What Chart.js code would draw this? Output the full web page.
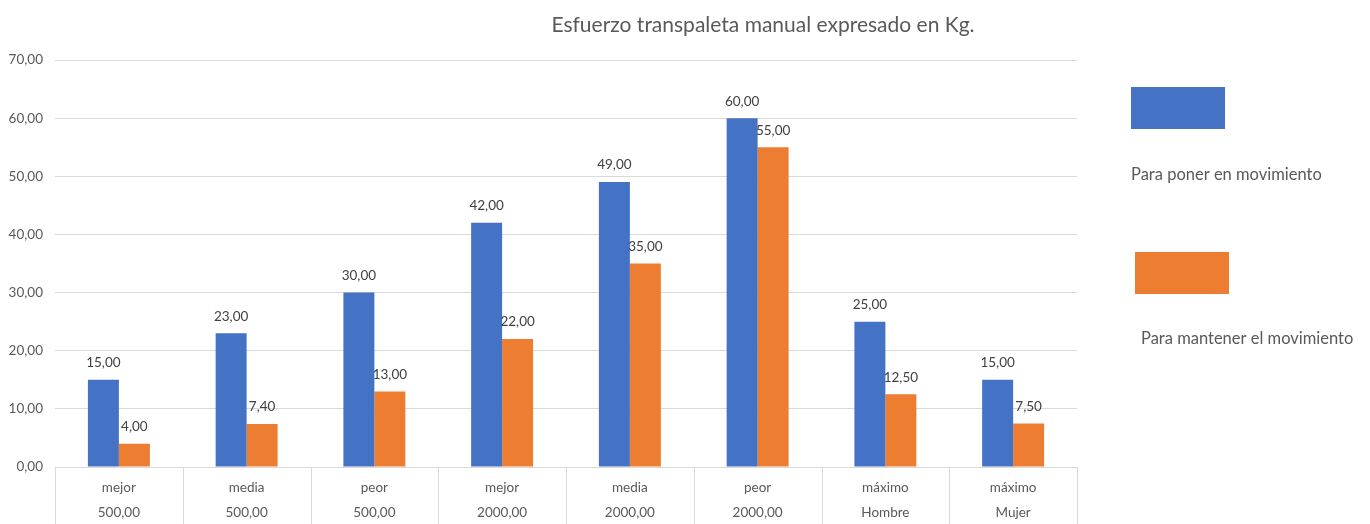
<!DOCTYPE html>
<html>
<head>
<meta charset="utf-8">
<script src="https://cdn.jsdelivr.net/npm/chart.js@4.4.1/dist/chart.umd.min.js"></script>
<style>
  html, body { margin: 0; padding: 0; background: #fff; }
  #wrap { width: 1370px; height: 524px; }
</style>
</head>
<body>
<div id="wrap"><canvas id="myChart" width="1370" height="524"></canvas></div>
<script>
const categories = [
    ['mejor', '500,00'], ['media', '500,00'], ['peor', '500,00'],
    ['mejor', '2000,00'], ['media', '2000,00'], ['peor', '2000,00'],
    ['máximo', 'Hombre'], ['máximo', 'Mujer']
];
const seriesNames = ['Para poner en movimiento', 'Para mantener el movimiento'];
const ponerValues = [15, 23, 30, 42, 49, 60, 25, 15];
const mantenerValues = [4, 7.4, 13, 22, 35, 55, 12.5, 7.5];
const yTicks = [0, 10, 20, 30, 40, 50, 60, 70];
const titleText = 'Esfuerzo transpaleta manual expresado en Kg.';

const FONT = 'Lato, "Open Sans", sans-serif';
const GREY = '#595959';

function fmt(v) {
    return v.toFixed(2).replace('.', ',');
}

// labels on top of the bars
const valueLabels = {
    id: 'valueLabels',
    afterDatasetsDraw(chart) {
        const ctx = chart.ctx;
        ctx.save();
        ctx.font = '13.5px ' + FONT;
        ctx.fillStyle = '#404040';
        ctx.textAlign = 'center';
        ctx.textBaseline = 'middle';
        chart.data.datasets.forEach(function (ds, i) {
            chart.getDatasetMeta(i).data.forEach(function (bar, j) {
                ctx.fillText(fmt(ds.data[j]), bar.x, bar.y - 17);
            });
        });
        ctx.restore();
    }
};

// title, table lines under the axis and the legend on the right
const decor = {
    id: 'decor',
    afterDraw(chart) {
        const ctx = chart.ctx;
        const area = chart.chartArea;
        const x = chart.scales.x;
        ctx.save();

        ctx.font = '21px ' + FONT;
        ctx.fillStyle = GREY;
        ctx.textAlign = 'center';
        ctx.textBaseline = 'middle';
        ctx.fillText(titleText, 763, 25);

        ctx.strokeStyle = '#d9d9d9';
        ctx.lineWidth = 1;
        const n = categories.length;
        const band = (area.right - area.left) / n;
        for (let i = 0; i <= n; i++) {
            let px = i < n ? x.getPixelForValue(i) - band / 2 : x.getPixelForValue(n - 1) + band / 2;
            px = Math.round(px) + 0.5;
            ctx.beginPath();
            ctx.moveTo(px, area.bottom);
            ctx.lineTo(px, chart.height);
            ctx.stroke();
        }

        const legendItems = [
            { box: [1131, 87], text: [1131, 175] },
            { box: [1135, 252], text: [1141, 339] }
        ];
        ctx.font = '16.5px ' + FONT;
        ctx.textAlign = 'left';
        legendItems.forEach(function (it, i) {
            ctx.fillStyle = chart.data.datasets[i].backgroundColor;
            ctx.fillRect(it.box[0], it.box[1], 94, 42);
            ctx.fillStyle = GREY;
            ctx.fillText(seriesNames[i], it.text[0], it.text[1]);
        });
        ctx.restore();
    }
};

const data = {
    labels: categories,
    datasets: [{
        label: seriesNames[0],
        data: ponerValues,
        backgroundColor: '#4472C4'
    }, {
        label: seriesNames[1],
        data: mantenerValues,
        backgroundColor: '#ED7D31'
    }]
};

const ctx = document.getElementById('myChart').getContext('2d');
const myChart = new Chart(ctx, {
    type: 'bar',
    data: data,
    plugins: [valueLabels, decor],
    options: {
        responsive: false,
        animation: false,
        categoryPercentage: 0.485,
        barPercentage: 1,
        layout: { padding: { top: 60, right: 293, left: 0, bottom: 0 } },
        plugins: {
            legend: { display: false },
            title: { display: false },
            tooltip: { enabled: false }
        },
        scales: {
            x: {
                grid: { display: false, drawTicks: false },
                border: { display: false },
                ticks: {
                    color: GREY,
                    padding: 8,
                    font: { family: FONT, size: 13.5, lineHeight: '25px' }
                },
                afterFit(scale) { scale.height = 57; }
            },
            y: {
                min: 0,
                max: 70,
                afterBuildTicks(scale) {
                    scale.ticks = yTicks.map(function (v) { return { value: v }; });
                },
                grid: { color: '#d9d9d9', drawTicks: false },
                border: { display: false },
                ticks: {
                    color: GREY,
                    padding: 12,
                    font: { family: FONT, size: 13.5 },
                    callback: function (v) { return fmt(v); }
                },
                afterFit(scale) { scale.width = 55; }
            }
        }
    }
});
</script>
</body>
</html>
